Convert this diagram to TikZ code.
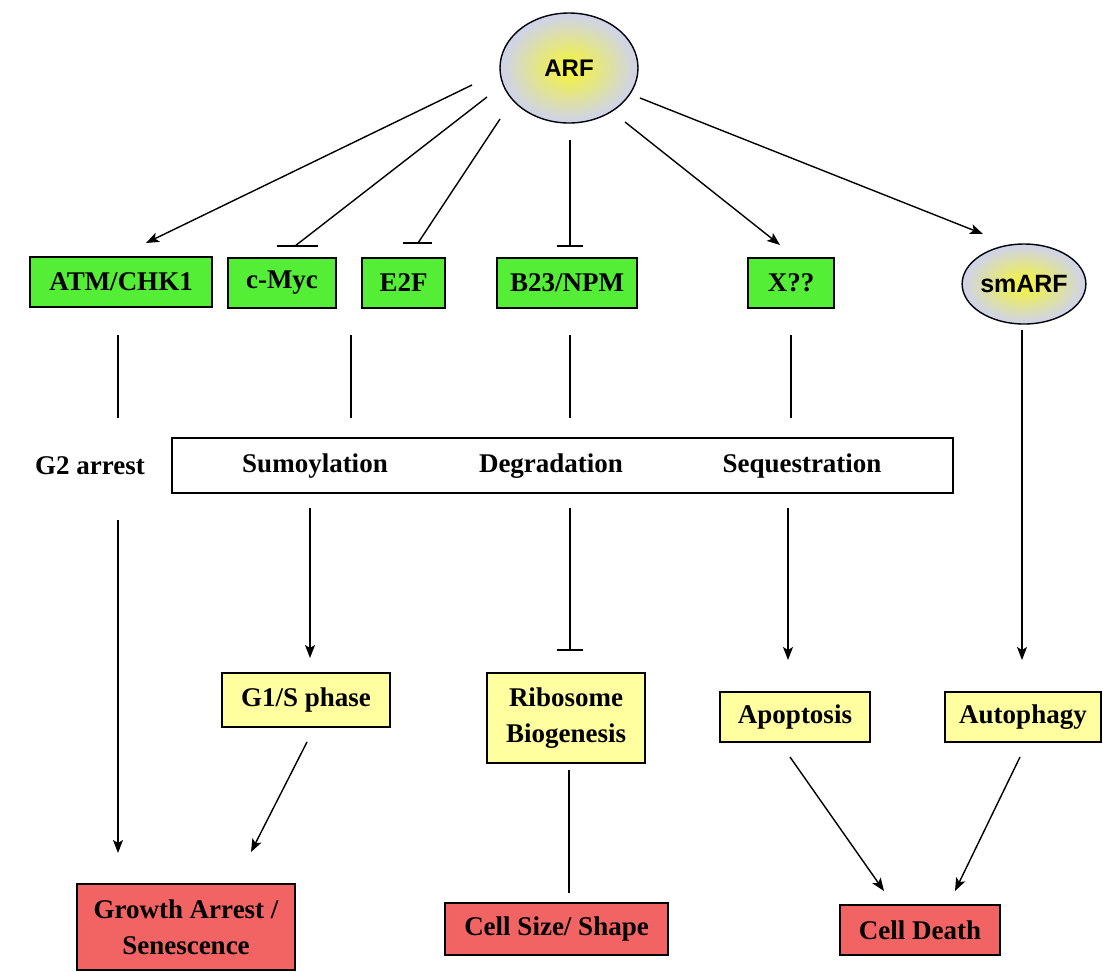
\documentclass[tikz,border=0pt]{standalone}
\usepackage{fontspec}
\setmainfont{Liberation Serif}
\newfontfamily\arialfont{Liberation Sans}
\usetikzlibrary{shapes.geometric,arrows.meta}

\definecolor{boxgreen}{RGB}{85,238,55}
\definecolor{boxyellow}{RGB}{255,255,160}
\definecolor{boxred}{RGB}{242,100,100}
\definecolor{arfblue}{RGB}{206,210,238}
\definecolor{arfyellow}{RGB}{245,245,50}

\begin{document}
\begin{tikzpicture}[x=0.5pt,y=-0.5pt,
  every node/.style={font=\fontsize{13.5}{18}\selectfont\bfseries},
  gene/.style={draw,line width=0.9pt,fill=boxgreen,minimum height=25pt,inner sep=0pt},
  proc/.style={draw,line width=0.9pt,fill=boxyellow,minimum height=25pt,inner sep=0pt,align=center},
  fate/.style={draw,line width=0.9pt,fill=boxred,minimum height=25pt,inner sep=0pt,align=center},
  arfnode/.style={ellipse,draw,line width=0.7pt,inner sep=0pt,inner color=arfyellow,outer color=arfblue,font=\arialfont\bfseries},
  act/.style={line width=0.7pt,-{Stealth[length=6.5pt,width=5pt,inset=1.5pt]}},
  link/.style={line width=0.7pt}]
\useasboundingbox (0,0) rectangle (1103,971);
\fill[white] (0,0) rectangle (1103,971);

\node[arfnode,minimum width=69pt,minimum height=55pt] (arf) at (569,68) {\fontsize{12}{14}\selectfont ARF};
\node[gene,minimum width=91pt] (atm) at (121,282) {ATM/CHK1};
\node[gene,minimum width=54pt] (myc) at (282,283) {c-Myc};
\node[gene,minimum width=41.5pt] (e2f) at (403.5,283) {E2F};
\node[gene,minimum width=70pt] (npm) at (567,283) {B23/NPM};
\node[gene,minimum width=43pt] (xq) at (791,283) {X??};
\node[arfnode,minimum width=49pt,minimum height=40pt] (smarf) at (1024,284) {\fontsize{12.5}{14}\selectfont smARF};

\node (g2) at (90,466) {G2 arrest};
\node[draw,line width=0.9pt,minimum width=390.5pt,minimum height=27.5pt] (mech) at (562.5,465.5) {};
\node (sumo) at (315,466) {Sumoylation};
\node (degr) at (551,466) {Degradation};
\node (sequ) at (802,466) {Sequestration};

\node[proc,minimum width=84pt,minimum height=27pt] (g1s) at (306,700) {G1/S phase};
\node[proc,minimum width=79pt,minimum height=45pt] (ribo) at (566,718) {Ribosome\\Biogenesis};
\node[proc,minimum width=75pt] (apop) at (795,717) {Apoptosis};
\node[proc,minimum width=78pt] (auto) at (1023,717) {Autophagy};

\node[fate,minimum width=109pt,minimum height=43pt] (grow) at (186,927) {Growth Arrest /\\Senescence};
\node[fate,minimum width=111.5pt,minimum height=26pt] (size) at (556.5,929) {Cell Size/ Shape};
\node[fate,minimum width=80pt] (death) at (920,930) {Cell Death};

\foreach \n/\x/\y in {arf-atm/472/85, arf-myc/487/97, arf-e2f/500/119, arf-npm/570/140,
    arf-xq/625/122, arf-sm/640/98, atm-tip/146/243, myc-tip/295/246, e2f-tip/418/243,
    npm-tip/570/246, xq-tip/780/245, sm-tip/983/234,
    g2-out/118/520, g2-tip/118/853, sumo-out/310/508, sumo-tip/310/658,
    degr-out/570/508, degr-tip/570/650, sequ-out/788/508, sequ-tip/788/660,
    sm-out/1022/330, sm-down/1022/660, g1s-out/307/742, grow-tip/251/852,
    ribo-out/569/770, size-tip/569/893, apop-out/790/757, apop-tip/884/891,
    auto-out/1020/757, auto-tip/955/891}
  \coordinate (\n) at (\x,\y);
\foreach \n/\x in {atm/118,myc/351,npm/570,xq/791} {
  \coordinate (\n-top) at (\x,335);
  \coordinate (\n-bot) at (\x,418);
  \draw[link] (\n-top) -- (\n-bot);
}

\draw[act] (arf-atm) -- (atm-tip);
\draw[link] (arf-myc) -- (myc-tip);
\draw[link] (myc-tip) ++(-18,0) -- ++(41,0);
\draw[link] (arf-e2f) -- (e2f-tip);
\draw[link] (e2f-tip) ++(-15,0) -- ++(29,0);
\draw[link] (arf-npm) -- (npm-tip);
\draw[link] (npm-tip) ++(-13,0) -- ++(26,0);
\draw[act] (arf-xq) -- (xq-tip);
\draw[act] (arf-sm) -- (sm-tip);

\draw[act] (g2-out) -- (g2-tip);
\draw[act] (sumo-out) -- (sumo-tip);
\draw[link] (degr-out) -- (degr-tip);
\draw[link] (degr-tip) ++(-13,0) -- ++(26,0);
\draw[act] (sequ-out) -- (sequ-tip);
\draw[act] (sm-out) -- (sm-down);
\draw[act] (g1s-out) -- (grow-tip);
\draw[link] (ribo-out) -- (size-tip);
\draw[act] (apop-out) -- (apop-tip);
\draw[act] (auto-out) -- (auto-tip);
\end{tikzpicture}
\end{document}
